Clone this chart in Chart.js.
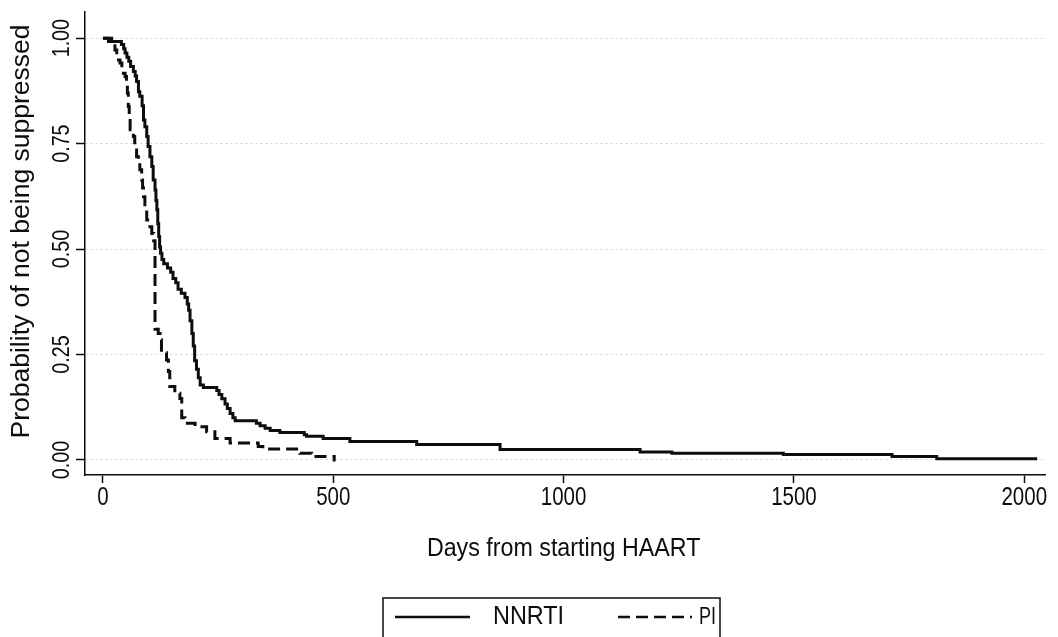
<!DOCTYPE html>
<html>
<head>
<meta charset="utf-8">
<script src="https://cdn.jsdelivr.net/npm/chart.js@4.4.1/dist/chart.umd.min.js"></script>
<style>
  html, body { margin: 0; padding: 0; background: #fff; overflow: hidden; }
  #wrap { width: 1058px; height: 637px; position: relative; }
</style>
</head>
<body>
<div id="wrap"><canvas id="km"></canvas></div>
<script>
// Kaplan-Meier estimates: time (days) at which the estimate changes, and the new value
const nnrtiDays = [0, 12, 40, 45, 48, 52, 56, 60, 66, 70, 73, 77, 80, 85, 88, 91, 95, 98, 102, 106,
  109, 113, 115, 117, 119, 121, 123, 125, 128, 132, 140, 147, 152, 158, 163, 170, 178, 183, 186, 189,
  193, 196, 199, 203, 207, 211, 218, 247, 252, 258, 265, 270, 276, 282, 287, 333, 341, 352, 363, 384,
  437, 442, 478, 536, 681, 862, 1166, 1235, 1477, 1713, 1810, 2028];
const nnrtiSurv = [1.0, 0.992, 0.985, 0.975, 0.965, 0.955, 0.945, 0.933, 0.921, 0.91, 0.897, 0.873, 0.862, 0.84, 0.806, 0.79, 0.767, 0.743, 0.719, 0.696,
  0.664, 0.64, 0.615, 0.593, 0.56, 0.53, 0.505, 0.49, 0.475, 0.465, 0.455, 0.445, 0.43, 0.42, 0.405, 0.395, 0.385, 0.37, 0.355, 0.33,
  0.30, 0.27, 0.235, 0.215, 0.195, 0.178, 0.172, 0.165, 0.155, 0.145, 0.133, 0.122, 0.11, 0.10, 0.093, 0.087, 0.081, 0.075, 0.07, 0.065,
  0.06, 0.056, 0.051, 0.044, 0.037, 0.025, 0.019, 0.016, 0.013, 0.008, 0.003, 0.003];

const piDays = [0, 19, 26, 30, 37, 41, 48, 51, 53, 55, 57, 59, 66, 69, 73, 77, 80, 84, 86, 88,
  91, 95, 102, 106, 110, 113, 120, 124, 127, 138, 142, 145, 156, 167, 171, 178, 200, 225, 243, 276,
  337, 347, 428, 453, 502, 505];
const piSurv = [1.0, 0.99, 0.972, 0.948, 0.941, 0.917, 0.909, 0.893, 0.87, 0.838, 0.81, 0.783, 0.767, 0.735, 0.719, 0.711, 0.688, 0.664, 0.645, 0.624,
  0.593, 0.569, 0.553, 0.537, 0.52, 0.31, 0.30, 0.285, 0.254, 0.237, 0.21, 0.174, 0.158, 0.146, 0.10, 0.087, 0.079, 0.067, 0.051, 0.04,
  0.032, 0.026, 0.016, 0.008, 0.0, 0.0];

const xTicks = [0, 500, 1000, 1500, 2000];
const xTickLabels = ['0', '500', '1000', '1500', '2000'];
const yTicks = [0, 0.25, 0.5, 0.75, 1];
const yTickLabels = ['0.00', '0.25', '0.50', '0.75', '1.00'];
const seriesNames = ['NNRTI', 'PI'];
const xTitle = 'Days from starting HAART';
const yTitle = 'Probability of not being suppressed';

const toPoints = (xs, ys) => xs.map((x, i) => ({ x: x, y: ys[i] }));
const INK = '#0d0d0d';
const FONT = '"Liberation Sans", Arial, sans-serif';

// text drawn with an optional squeeze along the reading direction
function drawText(ctx, txt, x, y, size, sx, angle, align) {
  ctx.save();
  ctx.translate(x, y);
  ctx.rotate(angle || 0);
  ctx.scale(sx, 1);
  ctx.font = size + 'px ' + FONT;
  ctx.fillStyle = INK;
  ctx.textAlign = align || 'center';
  ctx.textBaseline = 'middle';
  ctx.fillText(txt, 0, 0);
  ctx.restore();
}

const textPlugin = {
  id: 'stataText',
  afterDraw(chart) {
    const ctx = chart.ctx;
    const xs = chart.scales.x, ys = chart.scales.y;
    const area = chart.chartArea;
    // x tick labels
    xTicks.forEach((v, i) => drawText(ctx, xTickLabels[i], xs.getPixelForValue(v), area.bottom + 23, 25, 0.82, 0));
    // y tick labels, rotated
    yTicks.forEach((v, i) => drawText(ctx, yTickLabels[i], area.left - 23, ys.getPixelForValue(v), 24, 0.82, -Math.PI / 2));
    // axis titles
    drawText(ctx, xTitle, xs.getPixelForValue(1000), area.bottom + 74, 25, 0.93, 0);
    drawText(ctx, yTitle, 22, (area.top + area.bottom) / 2 - 12, 25, 1.06, -Math.PI / 2);

    // legend box (open at the bottom edge of the page)
    const top = 598, left = 383, right = 720, mid = 617;
    ctx.save();
    ctx.strokeStyle = INK;
    ctx.lineWidth = 1.5;
    ctx.beginPath();
    ctx.moveTo(left, chart.height + 2);
    ctx.lineTo(left, top);
    ctx.lineTo(right, top);
    ctx.lineTo(right, chart.height + 2);
    ctx.stroke();
    ctx.lineWidth = 2.5;
    ctx.beginPath();
    ctx.moveTo(395, mid);
    ctx.lineTo(470, mid);
    ctx.stroke();
    ctx.setLineDash([12, 6]);
    ctx.beginPath();
    ctx.moveTo(618, mid);
    ctx.lineTo(692, mid);
    ctx.stroke();
    ctx.restore();
    drawText(ctx, seriesNames[0], 493, mid, 26, 0.9, 0, 'left');
    drawText(ctx, seriesNames[1], 699, mid, 24, 0.75, 0, 'left');
  }
};

new Chart(document.getElementById('km'), {
  type: 'line',
  data: {
    datasets: [
      {
        label: seriesNames[0],
        data: toPoints(nnrtiDays, nnrtiSurv),
        stepped: true,
        borderColor: INK,
        borderWidth: 3,
        pointRadius: 0,
        fill: false
      },
      {
        label: seriesNames[1],
        data: toPoints(piDays, piSurv),
        stepped: true,
        borderColor: INK,
        borderWidth: 3,
        borderDash: [12, 6],
        pointRadius: 0,
        fill: false
      }
    ]
  },
  options: {
    responsive: true,
    maintainAspectRatio: false,
    animation: false,
    devicePixelRatio: 1,
    layout: { padding: { top: 12, right: 13, left: 0, bottom: 0 } },
    plugins: { legend: { display: false }, tooltip: { enabled: false } },
    scales: {
      x: {
        type: 'linear',
        min: -39,
        max: 2045,
        afterBuildTicks: s => { s.ticks = xTicks.map(v => ({ value: v })); },
        afterFit: s => { s.height = 162; },
        ticks: { display: false },
        grid: { drawOnChartArea: false, drawTicks: true, tickLength: 8, tickColor: INK, tickWidth: 1.5 },
        border: { display: true, color: INK, width: 1.5 }
      },
      y: {
        type: 'linear',
        min: -0.0356,
        max: 1.062,
        afterBuildTicks: s => { s.ticks = yTicks.map(v => ({ value: v })); },
        afterFit: s => { s.width = 85; },
        ticks: { display: false },
        grid: { color: '#d2d2d2', lineWidth: 1, drawTicks: true, tickLength: 9, tickColor: INK, tickWidth: 1.5, tickBorderDash: [] },
        border: { display: true, color: INK, width: 1.5, dash: [2, 3] }
      }
    }
  },
  plugins: [textPlugin]
});
</script>
</body>
</html>
